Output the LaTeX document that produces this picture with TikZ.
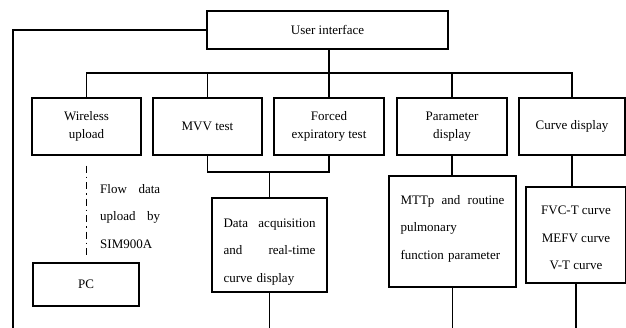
\documentclass[tikz,border=0pt]{standalone}
\usepackage{fontspec}
\setmainfont{Liberation Serif}
\usetikzlibrary{positioning,calc}

\begin{document}
\begin{tikzpicture}[
  x=1pt,y=-1pt,
  blk/.style={draw,line width=1.2pt,inner sep=0pt,font=\fontsize{13}{18}\selectfont,align=center},
  txt/.style={inner sep=0pt,font=\fontsize{13}{27.5}\selectfont,align=left},
  wire/.style={line width=1.2pt},
  ddot/.style={line width=1.2pt,dash pattern=on 7pt off 4pt on 1.5pt off 4pt},
]
  \useasboundingbox (0,0) rectangle (626,328);

  % top level and first row
  \node[blk,minimum width=241,minimum height=38] at (327.5,30) (ui) {User interface};
  \node[blk,minimum width=109,minimum height=57] at (86.5,126.5) (wl) {Wireless\\upload};
  \node[blk,minimum width=109,minimum height=57] at (207.5,126.5) (mvv) {MVV test};
  \node[blk,minimum width=110,minimum height=57] at (329,126.5) (fet) {Forced\\expiratory test};
  \node[blk,minimum width=110,minimum height=57] at (452,126.5) (par) {Parameter\\display};
  \node[blk,minimum width=106,minimum height=57] at (572,126.5) (cur) {Curve display};

  % second row
  \node[blk,minimum width=106,minimum height=43] at (86,284.5) (pc) {PC};
  \node[blk,minimum width=115,minimum height=94] at (269.5,245) (daq) {};
  \node[txt,text width=92] at ($(daq)+(0,7)$) {Data\hfill acquisition\\and\hfill real-time\\curve display};
  \node[blk,minimum width=127,minimum height=111] at (452.5,231.5) (mtt) {};
  \node[txt,text width=104] at ($(mtt)+(0,-3)$) {MTTp\hfill and\hfill routine\\pulmonary\\function parameter};
  \node[blk,minimum width=100,minimum height=96] at (576,235) (fvc) {};
  \node[txt,align=center] at ($(fvc)+(0,3)$) {FVC-T curve\\MEFV curve\\V-T curve};
  \node[txt,text width=60,anchor=north west] at (100,184) (sim) {Flow\hfill data\\upload\hfill by\\SIM900A};

  % bus under the user interface
  \coordinate (bus) at (0,73);
  \draw[wire] (ui.south -| fet.north) -- (fet.north);
  \draw[wire] (wl.north) -- (wl.north |- bus) -- (cur.north |- bus) -- (cur.north);
  \draw[wire] (mvv.north |- bus) -- (mvv.north);
  \draw[wire] (par.north |- bus) -- (par.north);

  % left return line
  \draw[wire] (ui.west) -| (13,328);

  % wireless upload to PC
  \draw[ddot,shorten <=10pt,shorten >=6pt] (wl.south) -- (pc.north -| wl.south);

  % tests to data acquisition
  \coordinate (brk) at (0,172);
  \draw[wire] (mvv.south) -- (mvv.south |- brk) -- (fet.south |- brk) -- (fet.south);
  \draw[wire] (daq.north |- brk) -- (daq.north);
  \draw[wire] (daq.south) -- (daq.south |- 0,328);

  % displays
  \draw[wire] (par.south) -- (par.south |- mtt.north);
  \draw[wire] (mtt.south) -- (mtt.south |- 0,328);
  \draw[wire] (cur.south) -- (cur.south |- fvc.north);
  \draw[wire] (fvc.south) -- (fvc.south |- 0,328);
\end{tikzpicture}
\end{document}
